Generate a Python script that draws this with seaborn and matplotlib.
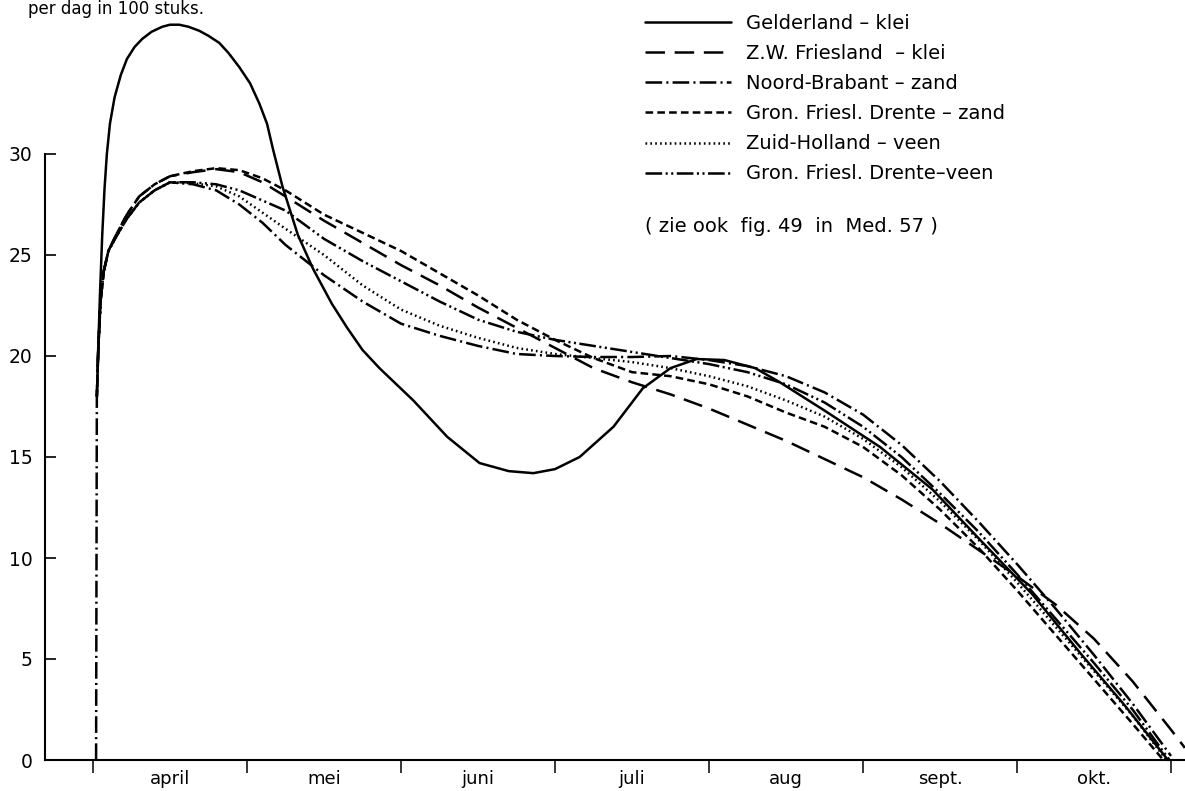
import matplotlib
matplotlib.use("Agg")
import matplotlib.pyplot as plt
import numpy as np
import pandas as pd
import seaborn as sns

# ---------------- data (months since 1 April, value) ----------------
labels = [
    "Gelderland – klei",
    "Z.W. Friesland  – klei",
    "Noord-Brabant – zand",
    "Gron. Friesl. Drente – zand",
    "Zuid-Holland – veen",
    "Gron. Friesl. Drente–veen",
]

month_names = ["april", "mei", "juni", "juli", "aug", "sept.", "okt."]
y_ticks = [0, 5, 10, 15, 20, 25, 30]

gl_x = [0.03, 0.045, 0.06, 0.075, 0.09, 0.11, 0.14, 0.18, 0.22, 0.27, 0.32, 0.38,
        0.45, 0.5, 0.56, 0.62, 0.69, 0.75, 0.82, 0.88, 0.95, 1.02, 1.08, 1.13,
        1.17, 1.23, 1.33, 1.43, 1.55, 1.65, 1.75, 1.86, 2.08, 2.30, 2.51, 2.70,
        2.86, 3.00, 3.16, 3.38, 3.57, 3.75, 3.92, 4.10, 4.30, 4.46, 4.75, 5.11,
        5.45, 5.76, 6.10, 6.41, 6.70, 6.98]
gl_y = [19.5, 23.0, 26.0, 28.3, 30.0, 31.5, 32.8, 33.9, 34.7, 35.3, 35.7, 36.05,
        36.3, 36.4, 36.4, 36.3, 36.1, 35.85, 35.5, 35.0, 34.3, 33.5, 32.5, 31.5,
        30.2, 28.4, 26.0, 24.3, 22.6, 21.4, 20.3, 19.4, 17.8, 16.0, 14.7, 14.3,
        14.2, 14.4, 15.0, 16.5, 18.4, 19.4, 19.85, 19.8, 19.4, 18.7, 17.3, 15.5,
        13.4, 10.9, 8.2, 5.3, 2.7, 0.0]

fr_x = [0.025, 0.035, 0.05, 0.07, 0.1, 0.15, 0.22, 0.3, 0.4, 0.5, 0.65, 0.8,
        0.95, 1.1, 1.25, 1.5, 1.75, 2.0, 2.25, 2.5, 2.75, 3.0, 3.25, 3.5, 3.75,
        4.0, 4.25, 4.5, 4.75, 5.0, 5.25, 5.5, 5.75, 6.0, 6.25, 6.5, 6.75, 7.0, 7.09]
fr_y = [18.0, 20.5, 22.8, 24.2, 25.2, 26.0, 27.0, 27.9, 28.5, 28.9, 29.1, 29.25,
        29.1, 28.6, 27.9, 26.7, 25.6, 24.5, 23.5, 22.4, 21.4, 20.4, 19.4, 18.7, 18.1,
        17.4, 16.6, 15.8, 14.9, 14.0, 12.9, 11.7, 10.4, 9.1, 7.7, 6.0, 3.9, 1.5, 0.6]

nb_x = [0.02, 0.025, 0.035, 0.05, 0.07, 0.1, 0.15, 0.22, 0.3, 0.4, 0.5, 0.65, 0.8,
        0.95, 1.1, 1.25, 1.5, 1.75, 2.0, 2.25, 2.5, 2.75, 3.0, 3.25, 3.5, 3.75,
        4.0, 4.25, 4.5, 4.75, 5.0, 5.25, 5.5, 5.75, 6.0, 6.25, 6.5, 6.75, 7.0]
nb_y = [0.0, 18.0, 20.5, 22.8, 24.2, 25.2, 25.9, 26.8, 27.6, 28.2, 28.6, 28.5, 28.2,
        27.5, 26.6, 25.5, 24.0, 22.7, 21.6, 21.0, 20.5, 20.1, 20.0, 19.95, 19.95, 20.0,
        19.8, 19.5, 19.0, 18.2, 17.1, 15.6, 13.8, 11.8, 9.7, 7.5, 5.2, 2.8, 0.2]

gz_x = [0.025, 0.035, 0.05, 0.07, 0.1, 0.15, 0.22, 0.3, 0.4, 0.5, 0.65, 0.8,
        0.95, 1.1, 1.25, 1.5, 1.75, 2.0, 2.25, 2.5, 2.75, 3.0, 3.25, 3.5, 3.75,
        4.0, 4.25, 4.5, 4.75, 5.0, 5.25, 5.5, 5.75, 6.0, 6.25, 6.5, 6.75, 6.95]
gz_y = [18.0, 20.5, 22.8, 24.2, 25.2, 26.0, 27.0, 27.9, 28.5, 28.9, 29.15, 29.3,
        29.2, 28.8, 28.2, 27.0, 26.1, 25.2, 24.1, 23.0, 21.8, 20.8, 19.9, 19.2, 19.0,
        18.6, 18.0, 17.2, 16.5, 15.5, 14.1, 12.4, 10.5, 8.4, 6.2, 4.0, 1.8, 0.0]

zh_x = [0.025, 0.035, 0.05, 0.07, 0.1, 0.15, 0.22, 0.3, 0.4, 0.5, 0.65, 0.8,
        0.95, 1.1, 1.25, 1.5, 1.75, 2.0, 2.25, 2.5, 2.75, 3.0, 3.25, 3.5, 3.75,
        4.0, 4.25, 4.5, 4.75, 5.0, 5.25, 5.5, 5.75, 6.0, 6.25, 6.5, 6.75, 6.97]
zh_y = [18.0, 20.5, 22.8, 24.2, 25.2, 25.9, 26.8, 27.6, 28.2, 28.6, 28.55, 28.4,
        27.9, 27.1, 26.3, 25.0, 23.5, 22.3, 21.5, 20.9, 20.4, 20.1, 19.9, 19.7, 19.4,
        19.0, 18.5, 17.8, 17.0, 15.9, 14.5, 12.8, 10.9, 8.8, 6.6, 4.4, 2.2, 0.0]

gv_x = [0.025, 0.035, 0.05, 0.07, 0.1, 0.15, 0.22, 0.3, 0.4, 0.5, 0.65, 0.8,
        0.95, 1.1, 1.25, 1.5, 1.75, 2.0, 2.25, 2.5, 2.75, 3.0, 3.25, 3.5, 3.75,
        4.0, 4.25, 4.5, 4.75, 5.0, 5.25, 5.5, 5.75, 6.0, 6.25, 6.5, 6.75, 6.99]
gv_y = [18.0, 20.5, 22.8, 24.2, 25.2, 25.9, 26.8, 27.6, 28.2, 28.6, 28.6, 28.5,
        28.2, 27.7, 27.2, 25.8, 24.7, 23.7, 22.7, 21.8, 21.2, 20.8, 20.5, 20.2, 19.9,
        19.6, 19.2, 18.6, 17.7, 16.5, 15.0, 13.2, 11.3, 9.2, 7.0, 4.8, 2.5, 0.0]

series_x = [gl_x, fr_x, nb_x, gz_x, zh_x, gv_x]
series_y = [gl_y, fr_y, nb_y, gz_y, zh_y, gv_y]

frames = []
for lab, xs, ys in zip(labels, series_x, series_y):
    frames.append(pd.DataFrame({"maand": xs, "waarde": ys, "gebied": lab}))
df = pd.concat(frames, ignore_index=True)

# ---------------- styling ----------------
sns.set_theme(style="ticks")
plt.rcParams["font.family"] = ["DejaVu Sans"]
plt.rcParams["lines.scale_dashes"] = False
plt.rcParams["text.color"] = "black"
plt.rcParams["xtick.color"] = "black"
plt.rcParams["ytick.color"] = "black"

dash_map = {
    labels[0]: "",
    labels[1]: (14, 7),
    labels[2]: (12, 3, 1.5, 3),
    labels[3]: (5.5, 3),
    labels[4]: (1.2, 2.3),
    labels[5]: (12, 2.5, 1.5, 2.5, 1.5, 2.5),
}

W, H = 1185, 791
fig = plt.figure(figsize=(W / 100, H / 100), dpi=100)
ax = fig.add_axes([0, 0, 1, 1])

sns.lineplot(data=df, x="maand", y="waarde", hue="gebied", style="gebied",
             hue_order=labels, style_order=labels,
             palette=["black"] * len(labels), dashes=dash_map,
             estimator=None, sort=False, linewidth=1.8, ax=ax)

# pixel mapping: x_px = 93 + 154*m, y_px = 760 - 20.2*v
x0_px, mpx = 93.0, 154.0
y0_px, vpx = 760.0, 20.2
ax.set_xlim((0 - x0_px) / mpx, (W - x0_px) / mpx)
ax.set_ylim((y0_px - H) / vpx, y0_px / vpx)
yaxis_x = (45 - x0_px) / mpx

for s in ["top", "right"]:
    ax.spines[s].set_visible(False)
ax.spines["left"].set_position(("data", yaxis_x))
ax.spines["left"].set_bounds(0, 30)
ax.spines["bottom"].set_position(("data", 0))
ax.spines["bottom"].set_bounds(yaxis_x, (W - x0_px) / mpx)
for s in ["left", "bottom"]:
    ax.spines[s].set_color("black")
    ax.spines[s].set_linewidth(1.5)

ax.set_yticks(y_ticks)
ax.set_yticklabels([str(t) for t in y_ticks])
ax.tick_params(axis="y", direction="in", length=8, width=1.2, pad=9,
               labelsize=13.5, colors="black", left=True)

ax.set_xticks(np.arange(0, 8))
ax.set_xticklabels([])
ax.set_xticks(np.arange(len(month_names)) + 0.5, minor=True)
ax.set_xticklabels(month_names, minor=True)
ax.tick_params(axis="x", which="major", direction="out", length=9, width=1.1,
               colors="black", bottom=True)
ax.tick_params(axis="x", which="minor", length=0, pad=7, labelsize=13,
               colors="black")
ax.set_xlabel("")
ax.set_ylabel("")

handles, labs = ax.get_legend_handles_labels()
ax.legend(handles, labs, loc="upper left", frameon=False,
          bbox_to_anchor=(645 / W, 1 - 14 / H), bbox_transform=fig.transFigure,
          borderpad=0, borderaxespad=0, handlelength=4.4, handletextpad=0.77,
          labelspacing=0.57, fontsize=14, labelcolor="black")

fig.text(645 / W, 1 - 227 / H, "( zie ook  fig. 49  in  Med. 57 )", fontsize=14,
         va="center", ha="left", color="black")
fig.text(28 / W, 1 - 14 / H, "per dag in 100 stuks.", fontsize=12,
         va="baseline", ha="left", color="black")

fig.savefig("out.png", dpi=100)
